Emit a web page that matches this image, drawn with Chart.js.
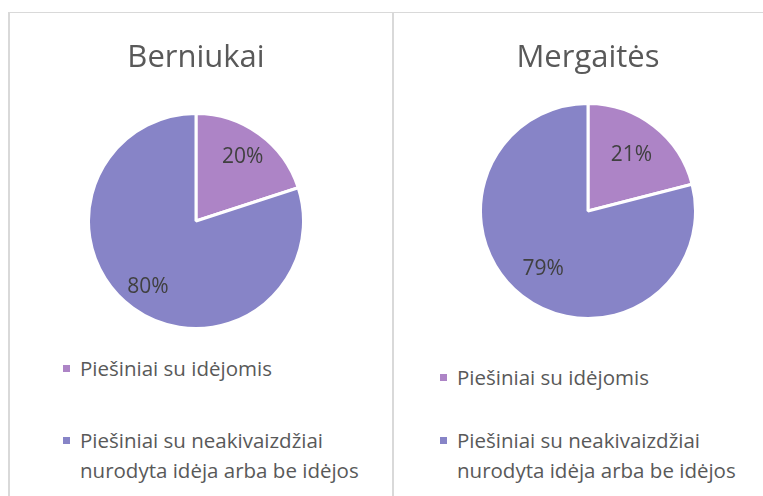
<!DOCTYPE html>
<html>
<head>
<meta charset="utf-8">
<script src="https://cdn.jsdelivr.net/npm/chart.js@4.4.0/dist/chart.umd.min.js"></script>
<style>
  body { margin: 0; width: 763px; height: 496px; overflow: hidden; position: relative; background: #fff; font-family: "Open Sans", sans-serif; }
  .frame { position: absolute; top: 12px; height: 520px; border-top: 1px solid #d9d9d9; border-left: 2px solid #d9d9d9; }
  #f1 { left: 8px; width: 383px; }
  #f2 { left: 392px; width: 400px; }
  canvas { position: absolute; }
  #c1 { left: 1px; top: 14px; }
  #c2 { left: 418px; top: 14px; }
  .legend { position: absolute; color: #595959; font-size: 20.5px; line-height: 30px; width: 320px; }
  .item { position: relative; padding-left: 17px; }
  .sw { position: absolute; left: 0; top: 12px; width: 7px; height: 7px; }
  #l1 { left: 63px; top: 353px; }
  #l1 .item + .item { margin-top: 42px; }
  #l2 { left: 440px; top: 362px; }
  #l2 .item + .item { margin-top: 33px; }
</style>
</head>
<body>
<div class="frame" id="f1"></div>
<div class="frame" id="f2"></div>
<canvas id="c1" width="390" height="316"></canvas>
<canvas id="c2" width="340" height="306"></canvas>
<div class="legend" id="l1"></div>
<div class="legend" id="l2"></div>
<script>
var categories = ['Piešiniai su idėjomis', 'Piešiniai su neakivaizdžiai nurodyta idėja arba be idėjos'];
var boysValues = [20, 80];
var girlsValues = [21, 79];
var colors = ['#AD84C6', '#8784C7'];

// percentage labels drawn inside the slices
var pctLabels = {
  id: 'pctLabels',
  afterDatasetsDraw: function (chart, args, opts) {
    var ctx = chart.ctx;
    var meta = chart.getDatasetMeta(0);
    var data = chart.data.datasets[0].data;
    ctx.save();
    ctx.font = '21px "Open Sans"';
    ctx.fillStyle = '#404040';
    ctx.textAlign = 'center';
    ctx.textBaseline = 'middle';
    meta.data.forEach(function (arc, i) {
      var p = arc.getProps(['x', 'y', 'startAngle', 'endAngle', 'outerRadius'], true);
      var mid = (p.startAngle + p.endAngle) / 2;
      var r = p.outerRadius * opts.dist[i];
      ctx.fillText(data[i] + '%', p.x + Math.cos(mid) * r, p.y + Math.sin(mid) * r);
    });
    ctx.restore();
  }
};

function makePie(id, title, values, bottomPad, dist) {
  new Chart(document.getElementById(id), {
    type: 'pie',
    data: {
      labels: categories,
      datasets: [{
        data: values,
        backgroundColor: colors,
        borderColor: '#ffffff',
        borderWidth: 3
      }]
    },
    options: {
      responsive: false,
      animation: false,
      plugins: {
        legend: { display: false },
        tooltip: { enabled: false },
        title: {
          display: true,
          text: title,
          color: '#595959',
          font: { family: 'Open Sans', size: 31, weight: 'normal' },
          padding: { top: 26, bottom: bottomPad }
        },
        pctLabels: { dist: dist }
      }
    },
    plugins: [pctLabels]
  });
}

function makeLegend(id) {
  var box = document.getElementById(id);
  categories.forEach(function (name, i) {
    var item = document.createElement('div');
    item.className = 'item';
    var sw = document.createElement('span');
    sw.className = 'sw';
    sw.style.background = colors[i];
    item.appendChild(sw);
    item.appendChild(document.createTextNode(name));
    box.appendChild(item);
  });
}

makePie('c1', 'Berniukai', boysValues, 34.8, [0.74, 0.76]);
makePie('c2', 'Mergaitės', girlsValues, 24.8, [0.66, 0.68]);
makeLegend('l1');
makeLegend('l2');
</script>
</body>
</html>
